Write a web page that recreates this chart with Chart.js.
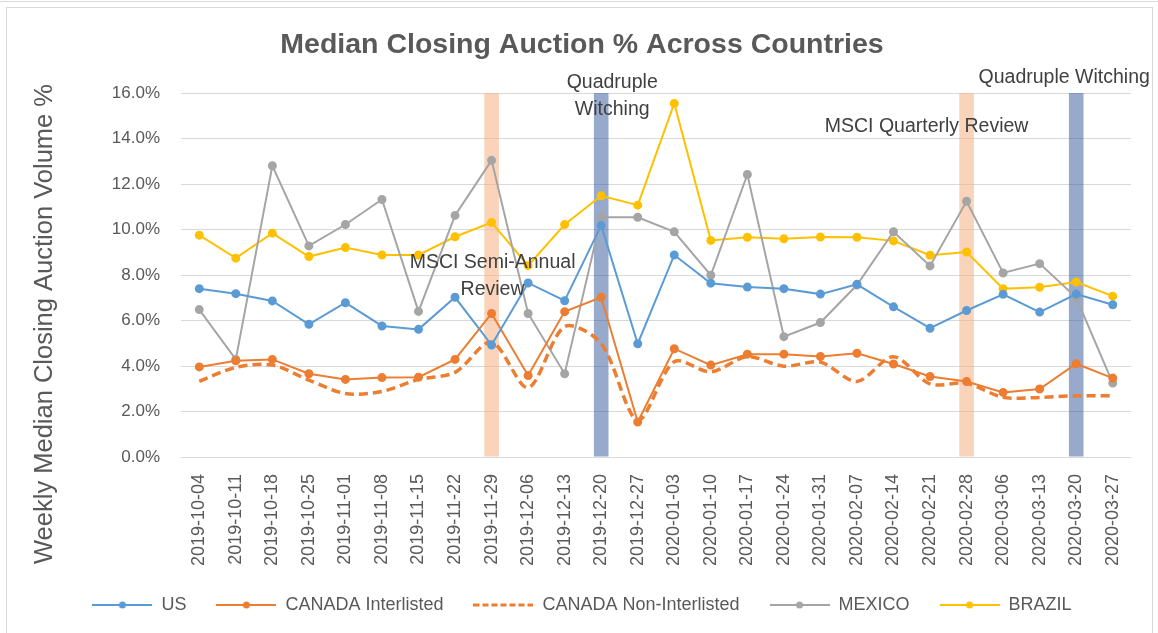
<!DOCTYPE html>
<html>
<head>
<meta charset="utf-8">
<script src="https://cdn.jsdelivr.net/npm/chart.js@4.4.1/dist/chart.umd.min.js"></script>
<style>
  html, body { margin: 0; padding: 0; background: #ffffff; }
  #wrap { width: 1158px; height: 633px; }
</style>
</head>
<body>
<div id="wrap"><canvas id="c" width="1158" height="633"></canvas></div>
<script>
// ---------------- DATA ----------------
const categories = [
  '2019-10-04','2019-10-11','2019-10-18','2019-10-25','2019-11-01','2019-11-08','2019-11-15',
  '2019-11-22','2019-11-29','2019-12-06','2019-12-13','2019-12-20','2019-12-27','2020-01-03',
  '2020-01-10','2020-01-17','2020-01-24','2020-01-31','2020-02-07','2020-02-14','2020-02-21',
  '2020-02-28','2020-03-06','2020-03-13','2020-03-20','2020-03-27'
];
const usValues = [7.40,7.18,6.86,5.83,6.78,5.76,5.61,7.02,4.92,7.65,6.87,10.18,4.98,8.88,7.64,7.47,7.40,7.16,7.59,6.60,5.66,6.44,7.15,6.37,7.16,6.69];
const canadaInterlisted = [3.96,4.23,4.29,3.66,3.41,3.49,3.51,4.29,6.31,3.58,6.39,7.02,1.54,4.76,4.04,4.52,4.52,4.42,4.56,4.09,3.54,3.32,2.84,2.99,4.10,3.47];
const canadaNonInterlisted = [3.33,3.94,4.04,3.38,2.79,2.88,3.41,3.72,5.05,3.05,5.73,4.99,1.62,4.19,3.74,4.41,3.99,4.17,3.32,4.41,3.21,3.24,2.62,2.62,2.69,2.69];
const mexicoValues = [6.48,4.29,12.80,9.28,10.22,11.32,6.40,10.62,13.04,6.31,3.66,10.54,10.54,9.90,7.99,12.42,5.29,5.91,7.56,9.90,8.40,11.24,8.09,8.50,7.01,3.25];
const brazilValues = [9.75,8.74,9.84,8.81,9.21,8.88,8.88,9.68,10.31,8.41,10.22,11.48,11.07,15.54,9.52,9.66,9.59,9.67,9.66,9.50,8.87,9.01,7.40,7.46,7.69,7.07];
const msciReviewWeeks = ['2019-11-29','2020-02-28'];
const quadWitchingWeeks = ['2019-12-20','2020-03-20'];
const yMin = 0, yMax = 16, yStep = 2;
const titleText = 'Median Closing Auction % Across Countries';
const yTitleText = 'Weekly Median Closing Auction Volume %';
const annotationTexts = [
  { week: '2019-11-29', lines: ['MSCI Semi-Annual', 'Review'] },
  { week: '2019-12-20', lines: ['Quadruple', 'Witching'] },
  { week: '2020-02-28', lines: ['MSCI Quarterly Review'] },
  { week: '2020-03-20', lines: ['Quadruple Witching'] }
];

// ---------------- STYLE ----------------
const COLORS = { us: '#5B9BD5', canada: '#ED7D31', mexico: '#A5A5A5', brazil: '#FFC000' };
const TEXT = '#595959';
const FONT = "'Liberation Sans', Arial, sans-serif";
// annotation placement (pixel offset from week, y in data units per line)
const annotationPlacement = [
  { dx: 1,   ys: [8.53, 7.34] },
  { dx: 11,  ys: [16.44, 15.25] },
  { dx: -40, ys: [14.51] },
  { dx: -12, ys: [16.66] }
];

function legendImg(color, dashed) {
  const c = document.createElement('canvas');
  c.width = 60; c.height = 12;
  const x = c.getContext('2d');
  x.strokeStyle = color;
  x.lineWidth = dashed ? 3 : 2;
  if (dashed) x.setLineDash([6, 3]);
  x.beginPath(); x.moveTo(0, 6); x.lineTo(60, 6); x.stroke();
  if (!dashed) { x.fillStyle = color; x.beginPath(); x.arc(30, 6, 3.5, 0, Math.PI * 2); x.fill(); }
  return c;
}

function lineSet(label, data, color, extra) {
  return Object.assign({
    type: 'line', label, data,
    borderColor: color, backgroundColor: color,
    pointBackgroundColor: color, pointBorderColor: color,
    borderWidth: 2, pointRadius: 3.5, pointHoverRadius: 3.5,
    tension: 0, order: 1, legendImage: legendImg(color, false)
  }, extra || {});
}

const datasets = [
  lineSet('US', usValues, COLORS.us),
  lineSet('CANADA Interlisted', canadaInterlisted, COLORS.canada),
  lineSet('CANADA Non-Interlisted', canadaNonInterlisted, COLORS.canada, {
    borderDash: [9, 5], borderWidth: 3.5, pointRadius: 0, tension: 0.3,
    legendImage: legendImg(COLORS.canada, true)
  }),
  lineSet('MEXICO', mexicoValues, COLORS.mexico),
  lineSet('BRAZIL', brazilValues, COLORS.brazil),
  {
    type: 'bar', label: 'MSCI Review',
    data: categories.map(c => msciReviewWeeks.includes(c) ? yMax : null),
    backgroundColor: 'rgba(244,177,131,0.55)', borderWidth: 0,
    barPercentage: 0.4, categoryPercentage: 1, grouped: false, order: 10, isBand: true
  },
  {
    type: 'bar', label: 'Quadruple Witching',
    data: categories.map(c => quadWitchingWeeks.includes(c) ? yMax : null),
    backgroundColor: 'rgba(47,85,151,0.5)', borderWidth: 0,
    barPercentage: 0.4, categoryPercentage: 1, grouped: false, order: 10, isBand: true
  }
];

const framePlugin = {
  id: 'frame',
  beforeDraw(chart) {
    const ctx = chart.ctx;
    ctx.save();
    ctx.fillStyle = '#ffffff';
    ctx.fillRect(0, 0, chart.width, chart.height);
    ctx.strokeStyle = '#d9d9d9';
    ctx.lineWidth = 1;
    ctx.beginPath(); ctx.moveTo(0, 1.5); ctx.lineTo(chart.width, 1.5); ctx.stroke();
    ctx.strokeRect(6.5, 7.5, chart.width - 12, chart.height + 10);
    ctx.restore();
  },
  afterDraw(chart) {
    const ctx = chart.ctx;
    ctx.save();
    ctx.translate(45, 324);
    ctx.rotate(-Math.PI / 2);
    ctx.font = "25.5px " + FONT;
    ctx.fillStyle = TEXT;
    ctx.textAlign = 'center';
    ctx.textBaseline = 'middle';
    ctx.fillText(yTitleText, 0, 0);
    ctx.restore();
  }
};

const annotationPlugin = {
  id: 'eventLabels',
  afterDatasetsDraw(chart) {
    const ctx = chart.ctx, xs = chart.scales.x, ys = chart.scales.y;
    ctx.save();
    ctx.font = "19.5px " + FONT;
    ctx.fillStyle = '#404040';
    ctx.textAlign = 'center';
    ctx.textBaseline = 'middle';
    annotationTexts.forEach((a, i) => {
      const p = annotationPlacement[i];
      const x = xs.getPixelForValue(categories.indexOf(a.week)) + p.dx;
      a.lines.forEach((ln, j) => ctx.fillText(ln, x, ys.getPixelForValue(p.ys[j])));
    });
    ctx.restore();
  }
};

new Chart(document.getElementById('c'), {
  type: 'line',
  data: { labels: categories, datasets },
  plugins: [framePlugin, annotationPlugin],
  options: {
    responsive: false,
    animation: false,
    layout: { padding: { left: 33, right: 27, top: 0, bottom: 9 } },
    plugins: {
      tooltip: { enabled: false },
      title: {
        display: true, text: titleText, color: TEXT,
        font: { family: FONT, size: 28.5, weight: 'bold' },
        padding: { top: 28, bottom: 30.8 }
      },
      legend: {
        position: 'bottom',
        labels: {
          color: TEXT,
          font: { family: FONT, size: 18 },
          usePointStyle: true,
          pointStyleWidth: 60,
          padding: 30,
          generateLabels(chart) {
            return chart.data.datasets.map((d, i) => ({ d, i }))
              .filter(o => !o.d.isBand)
              .map(o => ({
                text: o.d.label, datasetIndex: o.i, fontColor: TEXT,
                pointStyle: o.d.legendImage, hidden: false,
                strokeStyle: o.d.borderColor, fillStyle: o.d.borderColor, lineWidth: 0
              }));
          }
        }
      }
    },
    scales: {
      x: {
        type: 'category', offset: true,
        grid: { display: false, drawTicks: false },
        border: { display: false },
        ticks: {
          color: TEXT, font: { family: FONT, size: 18 },
          minRotation: 90, maxRotation: 90, autoSkip: false, padding: 17
        },
        afterFit(s) { s.height = 109; }
      },
      y: {
        min: yMin, max: yMax,
        grid: { color: '#d9d9d9', lineWidth: 1, drawTicks: false },
        border: { display: false },
        ticks: {
          stepSize: yStep, color: TEXT, font: { family: FONT, size: 17 }, padding: 21,
          callback: v => v.toFixed(1) + '%'
        },
        afterFit(s) { s.width = 148; }
      }
    }
  }
});
</script>
</body>
</html>
